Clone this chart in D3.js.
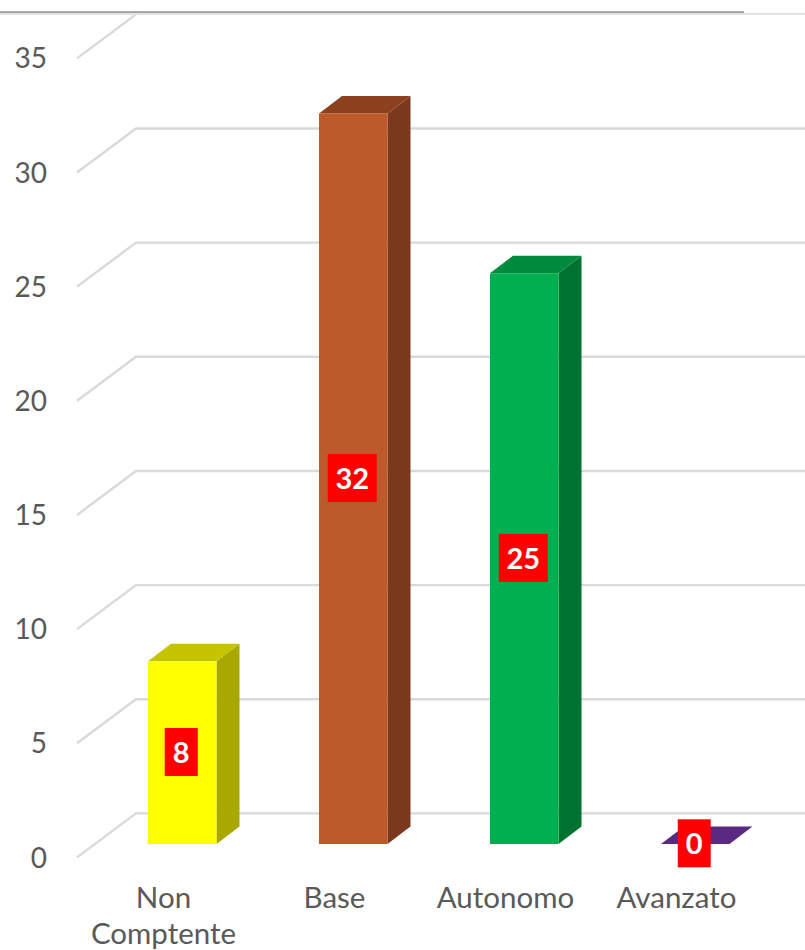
<!DOCTYPE html>
<html><head><meta charset="utf-8"><script src="https://cdn.jsdelivr.net/npm/d3@7"></script>
<style>html,body{margin:0;background:#fff}svg{display:block}text{font-family:Lato,sans-serif}</style></head>
<body><svg id="c" width="805" height="950"></svg>
<script>
const categories=["Non Comptente","Base","Autonomo","Avanzato"];
const labelLines=[["Non","Comptente"],["Base"],["Autonomo"],["Avanzato"]];
const values=[8,32,25,0];
const frontColors=["#FFFF00","#BC5A2C","#00B050","#5A2A82"];
const topColors=["#C4C400","#8C401E","#008A3E","#5A2A82"];
const sideColors=["#A8A800","#7A381C","#00722F","#5A2A82"];
const yTicks=[0,5,10,15,20,25,30,35];

const svg=d3.select("#c");
const baseY=844, dx=23, dy=-17.5;
const y=d3.scaleLinear().domain([0,35]).range([baseY,baseY-35*22.83]);
const x=d3.scaleBand().domain(categories).range([78,762]).paddingInner(0).paddingOuter(0);
const barW=68.5, barOff=70;
const wall={dx:59,dy:-44,front:77,right:805,label:47,off:13.4};
const line=d3.line();

// back-wall gridlines with the left-wall diagonals
const grid=svg.append("g");
yTicks.forEach(t=>{
  const py=y(t)+wall.off;
  const wy=py+wall.dy;
  if(t===35){
    grid.append("path").attr("d",line([[wall.front,py],[wall.front+wall.dx,wy]])).attr("fill","none").attr("stroke","#D9D9D9").attr("stroke-width",2.4);
    grid.append("rect").attr("x",0).attr("y",12.8).attr("width",805).attr("height",2.2).attr("fill","#E3E3E3");
    grid.append("rect").attr("x",0).attr("y",11.3).attr("width",744).attr("height",1.5).attr("fill","#8C8C8C");
  } else {
    grid.append("path").attr("d",line([[wall.front,py],[wall.front+wall.dx,wy],[wall.right,wy]])).attr("fill","none").attr("stroke","#D9D9D9").attr("stroke-width",2.4);
  }
});

// y axis tick labels
svg.append("g").selectAll("text").data(yTicks).join("text")
  .attr("x",wall.label).attr("y",t=>y(t)+23.5).attr("text-anchor","end")
  .attr("font-size",28).attr("fill","#595959").text(d=>d);

// bars
const bars=svg.append("g").selectAll("g").data(categories).join("g");
bars.each(function(c,i){
  const g=d3.select(this), v=values[i];
  const x0=x(c)+barOff, x1=x0+barW, y0=y(0), y1=y(v);
  g.append("path").attr("fill",sideColors[i]).attr("d",line([[x1,y0],[x1+dx,y0+dy],[x1+dx,y1+dy],[x1,y1]])+"Z");
  g.append("path").attr("fill",topColors[i]).attr("d",line([[x0,y1],[x0+dx,y1+dy],[x1+dx,y1+dy],[x1,y1]])+"Z");
  g.append("rect").attr("x",x0).attr("y",y1).attr("width",barW).attr("height",y0-y1).attr("fill",frontColors[i]);
});

// data labels
const lab=svg.append("g").selectAll("g").data(categories).join("g");
lab.each(function(c,i){
  const g=d3.select(this), v=values[i], s=String(v);
  const w=s.length>1?49:33, h=48;
  const cx=x(c)+barOff+barW/2-1;
  const cy=(y(0)+y(v))/2-0.7;
  g.append("rect").attr("x",cx-w/2).attr("y",cy-h/2).attr("width",w).attr("height",h).attr("fill","#FF0000");
  g.append("text").attr("x",cx).attr("y",cy+11).attr("text-anchor","middle").attr("font-size",29).attr("font-weight",700).attr("fill","#fff").text(s);
});

// category labels
const cats=svg.append("g").selectAll("text").data(categories).join("text")
  .attr("text-anchor","middle").attr("font-size",29.5).attr("fill","#595959");
cats.each(function(c,i){
  d3.select(this).selectAll("tspan").data(labelLines[i]).join("tspan")
    .attr("x",x(c)+x.bandwidth()/2).attr("y",(d,k)=>908+k*36).text(d=>d);
});
</script></body></html>
